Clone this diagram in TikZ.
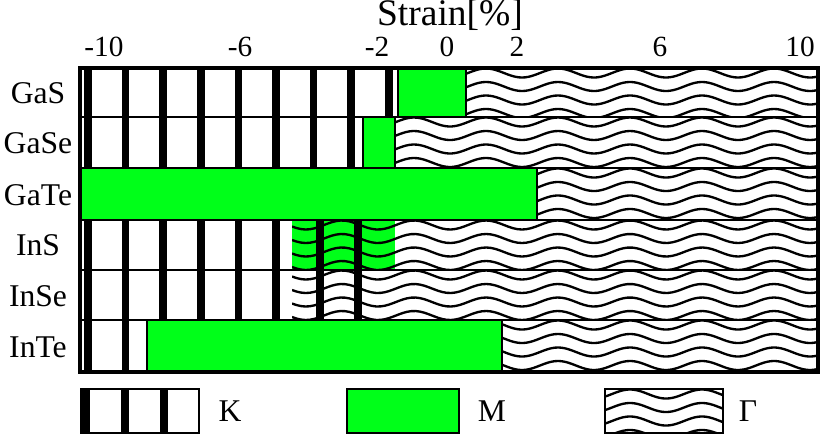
\documentclass[tikz,border=0pt]{standalone}
\usepackage{fontspec}
\setmainfont{Liberation Serif}
\definecolor{mgreen}{RGB}{0,255,25}

% K pattern: thick vertical bars at a fixed pitch
\newcommand{\kfill}[4]{%
  \begin{scope}
    \clip (#1,#3) rectangle (#2,#4);
    \fill[white] (#1,#3) rectangle (#2,#4);
    \foreach \k in {0,...,20} {
      \draw[kbar] ({88+37.6*\k},#3) -- ({88+37.6*\k},#4);
    }
  \end{scope}}
% Gamma pattern: horizontal waves
\newcommand{\gfill}[4]{%
  \begin{scope}
    \clip (#1,#3) rectangle (#2,#4);
    \foreach \w in {0,...,5} {
      \draw[wave] plot[domain=#1:#2,samples=120] (\x,{#3+5+13.5*\w+4.5*sin(5*\x)});
    }
  \end{scope}}

\begin{document}
\begin{tikzpicture}[x=0.03cm,y=-0.03cm,
    kbar/.style={line width=6.5pt},
    wave/.style={line width=2pt},
    cell/.style={draw,line width=1.8pt},
    lbl/.style={font=\fontsize{27}{29}\selectfont},
    tick/.style={font=\fontsize{25}{27}\selectfont}]
  \useasboundingbox (0,0) rectangle (822,438);

  % axis title and ticks
  \node[font=\fontsize{32}{34}\selectfont] (title) at (450,15) {Strain[\%]};
  \node[tick] (tm10) at (104,47) {-10};
  \node[tick] (tm6) at (240,47) {-6};
  \node[tick] (tm2) at (377,47) {-2};
  \node[tick] (t0) at (447,47) {0};
  \node[tick] (t2) at (517,47) {2};
  \node[tick] (t6) at (660,47) {6};
  \node[tick] (t10) at (800,47) {10};

  % GaS
  \kfill{81}{398}{68}{117}
  \fill[mgreen] (398,68) rectangle (466,117);
  \draw[line width=1pt] (398,68) rectangle (466,117);
  \gfill{466}{818}{68}{117}
  % GaSe
  \kfill{81}{363}{117}{168}
  \fill[mgreen] (363,117) rectangle (395,168);
  \draw[line width=1pt] (363,117) rectangle (395,168);
  \gfill{395}{818}{117}{168}
  % GaTe
  \fill[mgreen] (81,168) rectangle (537,220);
  \draw[line width=1pt] (81,168) rectangle (537,220);
  \gfill{537}{818}{168}{220}
  % InS
  \kfill{81}{292}{220}{270}
  \fill[mgreen] (292,220) rectangle (395,270);
  \draw[kbar] (320,220) -- (320,270) (358,220) -- (358,270);
  \gfill{292}{818}{220}{270}
  % InSe
  \kfill{81}{292}{270}{320}
  \draw[kbar] (320,270) -- (320,320) (358,270) -- (358,320);
  \gfill{292}{818}{270}{320}
  % InTe
  \kfill{81}{147}{320}{372}
  \fill[mgreen] (147,320) rectangle (502,372);
  \draw[line width=1pt] (147,320) rectangle (502,372);
  \gfill{502}{818}{320}{372}

  % row frames
  \foreach \ya/\yb in {68/117,117/168,168/220,220/270,270/320,320/372} {
    \draw[cell] (81,\ya) rectangle (818,\yb);
  }
  \draw[line width=3pt] (80,68) rectangle (818,372);

  % row labels
  \node[lbl] (gas) at (38,93) {GaS};
  \node[lbl] (gase) at (38,143) {GaSe};
  \node[lbl] (gate) at (38,195) {GaTe};
  \node[lbl] (ins) at (38,245) {InS};
  \node[lbl] (inse) at (38,296) {InSe};
  \node[lbl] (inte) at (38,347) {InTe};

  % legend
  \begin{scope}
    \clip (81,389) rectangle (199,433);
    \fill[white] (81,389) rectangle (199,433);
    \foreach \k in {0,1,2} { \draw[kbar] ({86+39*\k},389) -- ({86+39*\k},433); }
  \end{scope}
  \draw[cell] (81,389) rectangle (199,433);
  \node[lbl] (kkey) at (230,411) {K};
  \fill[mgreen] (347,389) rectangle (459,433);
  \draw[cell] (347,389) rectangle (459,433);
  \node[lbl] (mkey) at (492,411) {M};
  \gfill{605}{723}{389}{433}
  \draw[cell] (605,389) rectangle (723,433);
  \node[lbl] (gkey) at (748,411) {Γ};
\end{tikzpicture}
\end{document}
